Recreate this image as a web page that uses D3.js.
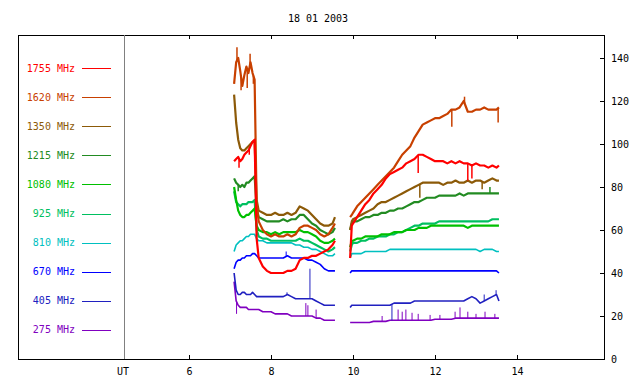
<!DOCTYPE html>
<html>
<head>
<meta charset="utf-8">
<script src="https://cdn.jsdelivr.net/npm/d3@7"></script>
<style>
  body { margin: 0; background: #fff; }
  svg { display: block; }
  text { font-family: "DejaVu Sans Mono", monospace; font-size: 10px; }
</style>
</head>
<body>
<svg id="chart" width="640" height="384"></svg>
<script>
// spectrograph flux, 18 01 2003 — one line per frequency channel

const title = '18 01 2003'
const channels = [1755, 1620, 1350, 1215, 1080, 925, 810, 670, 405, 275]
const colors = ['#ff0000', '#c84000', '#8c5a08', '#228b22', '#00c000', '#00c060', '#00c0c0', '#0000ff', '#2020c0', '#8000c0']
const hourTicks = [6, 8, 10, 12, 14]
const fluxTicks = [0, 20, 40, 60, 80, 100, 120, 140]

// first observing block (UT hours)
const timesA = [7.1, 7.15, 7.2, 7.25, 7.3, 7.35, 7.4, 7.45, 7.5, 7.55, 7.6, 7.65, 7.7,
  7.8, 7.9, 8.0, 8.1, 8.2, 8.3, 8.4, 8.5, 8.6, 8.7, 8.8, 8.9, 9.0, 9.1, 9.2, 9.3, 9.4, 9.5, 9.56]
// second observing block
const timesB = [9.93, 9.97, 10.0, 10.1, 10.2, 10.3, 10.4, 10.5, 10.6, 10.7, 10.8, 10.9,
  11.0, 11.1, 11.2, 11.3, 11.4, 11.5, 11.6, 11.7, 11.8, 11.9,
  12.0, 12.1, 12.2, 12.3, 12.4, 12.5, 12.6, 12.7, 12.8, 12.9,
  13.0, 13.1, 13.2, 13.3, 13.4, 13.5, 13.56]

const s1755A = [92, 93, 94, 92, 93, 95, 96, 97, 99, 101, 102, 56, 47, 43, 41, 40, 40, 40, 40, 41, 41, 42, 46, 47, 47, 48, 48, 49, 50, 51, 53, 55]
const s1620A = [128, 138, 140, 134, 127, 132, 136, 133, 138, 133, 130, 72, 64, 60, 58, 57, 58, 57, 57, 58, 57, 58, 61, 62, 62, 61, 60, 58, 57, 58, 61, 63]
const s1350A = [123, 110, 102, 98, 97, 97, 98, 99, 100, 101, 101, 74, 69, 68, 67, 67, 68, 67, 67, 68, 67, 68, 71, 70, 69, 67, 65, 63, 62, 62, 63, 66]
const s1215A = [84, 82, 81, 80, 81, 80, 82, 82, 83, 84, 85, 70, 66, 65, 64, 64, 64, 64, 65, 64, 65, 65, 67, 67, 65, 63, 62, 60, 59, 58, 59, 61]
const s1080A = [80, 74, 69, 67, 66, 66, 67, 67, 68, 69, 70, 62, 60, 59, 59, 58, 59, 58, 59, 59, 59, 59, 60, 59, 59, 58, 57, 55, 54, 54, 55, 56]
const s925A = [78, 73, 72, 71, 72, 72, 72, 73, 73, 73, 74, 60, 57, 56, 56, 55, 55, 55, 55, 55, 55, 55, 56, 55, 55, 54, 53, 52, 51, 50, 51, 52]
const s810A = [50, 53, 54, 55, 55, 56, 57, 57, 58, 58, 58, 56, 55, 55, 54, 54, 54, 54, 54, 54, 54, 53, 53, 52, 52, 51, 51, 50, 49, 48, 48, 49]
const s670A = [42, 45, 46, 46, 47, 47, 48, 48, 48, 49, 49, 48, 47, 47, 47, 47, 47, 47, 47, 48, 47, 47, 47, 47, 46, 46, 45, 44, 42, 41, 41, 41]
const s405A = [40, 32, 30, 30, 31, 31, 30, 30, 30, 31, 30, 29, 29, 29, 29, 29, 29, 29, 29, 30, 29, 28, 28, 28, 28, 28, 27, 26, 25, 25, 25, 25]
const s275A = [36, 27, 25, 24, 24, 24, 24, 23, 23, 23, 23, 23, 23, 22, 22, 22, 21, 21, 21, 21, 20, 20, 20, 20, 20, 20, 19, 19, 18, 18, 18, 18]

const s1755B = [47, 62, 63, 66, 69, 72, 74, 77, 79, 81, 84, 86, 87, 88, 89, 91, 92, 93, 95, 95, 94, 93,
  92, 92, 92, 91, 92, 91, 92, 91, 91, 90, 91, 90, 90, 89, 90, 89, 90]
const s1620B = [66, 67, 68, 71, 73, 75, 77, 79, 81, 83, 85, 87, 89, 92, 95, 97, 99, 103, 106, 109, 110, 111,
  112, 112, 113, 114, 116, 116, 117, 120, 115, 115, 116, 116, 117, 116, 116, 116, 117]
const s1350B = [60, 64, 65, 66, 67, 68, 69, 70, 72, 73, 73, 74, 75, 76, 77, 78, 79, 80, 81, 82, 82, 82,
  82, 82, 81, 82, 82, 83, 82, 82, 83, 82, 83, 83, 82, 83, 84, 83, 83]
const s1215B = [60, 63, 64, 64, 65, 66, 66, 67, 67, 68, 68, 69, 69, 70, 70, 71, 72, 73, 73, 74, 75, 75,
  75, 76, 76, 76, 76, 76, 77, 76, 77, 77, 77, 77, 77, 77, 77, 77, 77]
const s1080B = [52, 55, 55, 56, 56, 57, 57, 57, 57, 58, 58, 58, 59, 59, 59, 60, 60, 60, 61, 61, 61, 62,
  62, 62, 62, 62, 62, 62, 62, 62, 61, 62, 62, 62, 62, 62, 62, 62, 62]
const s925B = [50, 53, 54, 54, 55, 55, 56, 56, 57, 57, 57, 58, 58, 59, 59, 60, 61, 62, 62, 63, 63, 63,
  63, 64, 64, 64, 64, 64, 64, 64, 64, 64, 64, 64, 64, 64, 65, 65, 65]
const s810B = [47, 49, 49, 49, 49, 50, 50, 50, 50, 50, 50, 51, 51, 51, 51, 51, 51, 51, 51, 51, 51, 51,
  51, 51, 51, 51, 51, 51, 51, 51, 51, 51, 51, 50, 51, 51, 51, 50, 50]
const s670B = [40, 41, 41, 41, 41, 41, 41, 41, 41, 41, 41, 41, 41, 41, 41, 41, 41, 41, 41, 41, 41, 41,
  41, 41, 41, 41, 41, 41, 41, 41, 41, 41, 41, 41, 41, 41, 41, 41, 40]
const s405B = [24, 25, 25, 25, 25, 25, 25, 25, 25, 25, 25, 25, 26, 26, 26, 26, 26, 27, 27, 27, 27, 27,
  27, 27, 27, 27, 27, 27, 27, 27, 28, 29, 28, 26, 27, 28, 29, 30, 27]
const s275B = [17, 17, 17, 17, 17, 17, 17, 17.5, 17.5, 17.5, 17.5, 18, 18, 18, 18, 18, 18, 18, 18, 18, 18, 18,
  18.5, 18.5, 18.5, 18.5, 18.5, 19, 19, 19, 19, 19, 19, 19, 19, 19, 19, 19, 19]

// short bursts / dropouts: [channel, UT hour, peak value]
const spikes = [
  [1620, 7.17, 145], [1620, 7.27, 125], [1620, 7.42, 126], [1620, 7.49, 142], [1620, 7.57, 128],
  [1755, 7.22, 89], [1755, 7.47, 95], [1215, 7.2, 78], [275, 7.16, 21],
  [405, 8.39, 31], [405, 8.95, 42], [670, 8.37, 50],
  [275, 8.85, 26], [275, 8.9, 25], [275, 9.1, 23],
  [405, 10.95, 18], [405, 13.2, 30], [405, 13.49, 32],
  [275, 10.71, 20], [275, 11.1, 23], [275, 11.2, 22], [275, 11.29, 23], [275, 11.44, 21.5],
  [275, 11.59, 21], [275, 11.88, 20.5], [275, 12.12, 20.5], [275, 12.49, 22], [275, 12.61, 24],
  [275, 12.8, 22], [275, 13.0, 21], [275, 13.22, 22], [275, 13.46, 21],
  [1620, 12.41, 108], [1620, 13.54, 110], [1620, 12.72, 122],
  [1755, 11.59, 86.5], [1755, 12.8, 83], [1755, 12.9, 84],
  [1350, 11.63, 75], [1350, 13.15, 79], [1215, 13.34, 80]
]

const seriesA = [s1755A, s1620A, s1350A, s1215A, s1080A, s925A, s810A, s670A, s405A, s275A]
const seriesB = [s1755B, s1620B, s1350B, s1215B, s1080B, s925B, s810B, s670B, s405B, s275B]

// layout
const frame = { left: 18, top: 35, right: 604, bottom: 359 }
const utLineX = 124

const svg = d3.select('#chart')

const x = d3.scaleLinear().domain([6, 14]).range([189, 517])
const y = d3.scaleLinear().domain([0, 140]).range([359, 58])

// title
svg.append('text')
  .attr('x', 318)
  .attr('y', 22)
  .attr('text-anchor', 'middle')
  .attr('fill', '#000')
  .text(title)

// axes
svg.append('g')
  .attr('transform', `translate(0,${frame.bottom})`)
  .call(d3.axisBottom(x).tickValues(hourTicks).tickSizeInner(-4).tickSizeOuter(0).tickPadding(9))
  .call(g => g.select('.domain').remove())

svg.append('g')
  .attr('transform', `translate(0,${frame.top})`)
  .call(d3.axisTop(x).tickValues(hourTicks).tickSizeInner(-4).tickSizeOuter(0).tickFormat(''))
  .call(g => g.select('.domain').remove())

svg.append('g')
  .attr('transform', `translate(${frame.right},0)`)
  .call(d3.axisRight(y).tickValues(fluxTicks).tickSizeInner(-4).tickSizeOuter(0).tickPadding(7))
  .call(g => g.select('.domain').remove())

svg.selectAll('.tick line').attr('stroke', '#000').attr('shape-rendering', 'crispEdges')
svg.selectAll('.tick text').attr('fill', '#000').style('font-family', '"DejaVu Sans Mono", monospace').style('font-size', '10px')

svg.append('text')
  .attr('x', 123)
  .attr('y', frame.bottom + 9)
  .attr('dy', '0.71em')
  .attr('text-anchor', 'middle')
  .attr('fill', '#000')
  .text('UT')

// frame + UT separator
svg.append('rect')
  .attr('x', frame.left + 0.5)
  .attr('y', frame.top + 0.5)
  .attr('width', frame.right - frame.left)
  .attr('height', frame.bottom - frame.top)
  .attr('fill', 'none')
  .attr('stroke', '#000')
  .attr('shape-rendering', 'crispEdges')

svg.append('line')
  .attr('x1', utLineX + 0.5).attr('x2', utLineX + 0.5)
  .attr('y1', frame.top).attr('y2', frame.bottom)
  .attr('stroke', '#808080')
  .attr('shape-rendering', 'crispEdges')

// legend
const legend = svg.append('g')
  .selectAll('g')
  .data(channels)
  .join('g')
  .attr('transform', (d, i) => `translate(0,${68 + i * 29.1})`)

legend.append('text')
  .attr('x', 75)
  .attr('dy', '0.35em')
  .attr('text-anchor', 'end')
  .attr('fill', (d, i) => colors[i])
  .text(d => `${d} MHz`)

legend.append('line')
  .attr('x1', 82).attr('x2', 111)
  .attr('y1', 0.5).attr('y2', 0.5)
  .attr('stroke', (d, i) => colors[i])
  .attr('shape-rendering', 'crispEdges')

// data lines, lowest frequency drawn first
const line = d3.line()
  .x(d => x(d[0]))
  .y(d => y(d[1]))

const plot = svg.append('g')
const order = d3.range(channels.length).reverse()

order.forEach(i => {
  const noisy = channels[i] >= 925
  const segs = [
    timesA.map((t, k) => [t, seriesA[i][k]]),
    timesB.map((t, k) => [t, seriesB[i][k]])
  ]
  segs.forEach(seg => {
    plot.append('path')
      .datum(seg)
      .attr('fill', 'none')
      .attr('stroke', colors[i])
      .attr('stroke-width', noisy ? 2.2 : 1.6)
      .attr('stroke-linejoin', 'round')
      .attr('d', line)
  })

  // spikes start from the interpolated level of the line
  const baseA = d3.scaleLinear().domain(timesA).range(seriesA[i])
  const baseB = d3.scaleLinear().domain(timesB).range(seriesB[i])
  spikes.filter(s => s[0] === channels[i]).forEach(s => {
    const base = s[1] < 9.75 ? baseA(s[1]) : baseB(s[1])
    plot.append('line')
      .attr('x1', x(s[1])).attr('x2', x(s[1]))
      .attr('y1', y(base)).attr('y2', y(s[2]))
      .attr('stroke', colors[i])
      .attr('stroke-width', noisy ? 1.5 : 1)
  })
})
</script>
</body>
</html>
